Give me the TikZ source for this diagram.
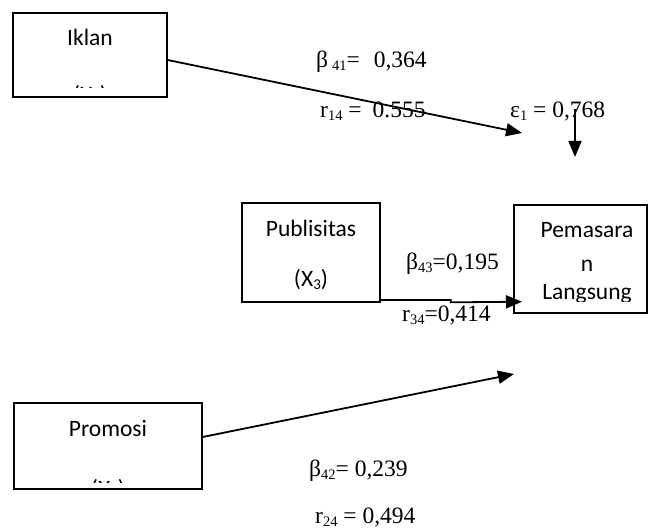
\documentclass[tikz,border=0pt]{standalone}
\usepackage{fontspec}
\setmainfont{Liberation Serif}
\newfontfamily\boxfont{Carlito}
\usetikzlibrary{arrows.meta}
\newcommand\lsub[1]{\raisebox{-2.5pt}{\fontsize{14.5}{14.5}\selectfont #1}}
\newcommand\bsub[1]{\raisebox{-3pt}{\fontsize{15}{15}\selectfont #1}}
\begin{document}
\begin{tikzpicture}[x=1pt,y=-1pt,
 box/.style={draw, line width=1.3pt, inner sep=0},
 btxt/.style={font=\boxfont\fontsize{23.5}{23.5}\selectfont, anchor=base, inner sep=0},
 lbl/.style={font=\fontsize{23.5}{23.5}\selectfont, anchor=base west, inner sep=0},
 arr/.style={line width=1.8pt, -{Triangle[length=16pt,width=13pt]}}]
\useasboundingbox (0,0) rectangle (649,529);
% boxes
\node[box, minimum width=154pt, minimum height=84pt] (iklan) at (90,55) {};
\node[box, minimum width=138pt, minimum height=99pt] (pub) at (311,252.5) {};
\node[box, minimum width=133pt, minimum height=108pt] (pem) at (580.5,259) {};
\node[box, minimum width=188pt, minimum height=86pt] (promo) at (108,446) {};
% box texts
\node[btxt] (iklant) at (90,46) {Iklan};
\begin{scope}
\clip (14,60) rectangle (166,88);
\node[btxt] (iklanx) at (90,103) {(X\bsub{1})};
\end{scope}
\node[btxt] (pubt) at (311,237) {Publisitas};
\node[btxt] (pubx) at (311,287) {(X\bsub{3})};
\node[btxt] (pemt1) at (587,238) {Pemasara};
\node[btxt] (pemt2) at (587,272) {n};
\begin{scope}
\clip (515,245) rectangle (646,302);
\node[btxt] (pemt3) at (587,300) {Langsung};
\end{scope}
\node[btxt] (promot) at (108,437) {Promosi};
\begin{scope}
\clip (15,450) rectangle (201,483);
\node[btxt] (promox) at (108,497) {(X\bsub{2})};
\end{scope}
% labels
\node[lbl] (b41) at (316,68) {β\,\lsub{41}=\hspace{14pt}0,364};
\node[lbl] (r14) at (320,118) {r\lsub{14} =\hspace{11pt}0.555};
\node[lbl] (e1) at (510,118) {ε\lsub{1} = 0,768};
\node[lbl] (b43) at (406,270) {β\lsub{43}=0,195};
\node[lbl] (r34) at (402,322) {r\lsub{34}=0,414};
\node[lbl] (b42) at (309,477) {β\lsub{42}= 0,239};
\node[lbl] (r24) at (315,524) {r\lsub{24} = 0,494};
% arrow endpoints
\coordinate (t1) at (522,133);
\coordinate (et) at (575,109);
\coordinate (eb) at (575,157);
\coordinate (t3) at (522,301.7);
\coordinate (t2) at (514,374);
% arrows
\draw[arr] ([yshift=-5pt]iklan.east) -- (t1);
\draw[arr] (et) -- (eb);
\draw[arr] ([yshift=2.7pt]pub.south east) -- ++(70,0) -- ++(0,2.4) -- (t3);
\draw[arr] ([yshift=9pt]promo.east) -- (t2);
\end{tikzpicture}
\end{document}
